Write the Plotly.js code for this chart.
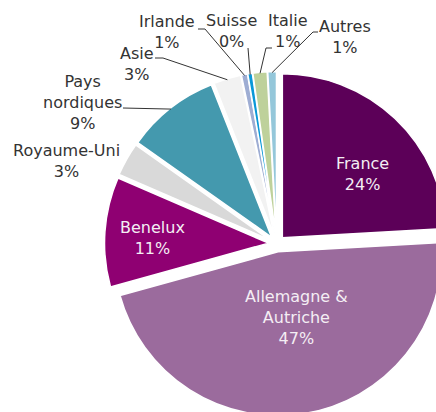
<!DOCTYPE html>
<html><head><meta charset="utf-8">
<script src="https://cdn.plot.ly/plotly-3.0.1.min.js"></script>
<style>
html,body{margin:0;padding:0;width:436px;height:412px;overflow:hidden;background:#fff}
#chart{position:absolute;left:0;top:0;width:560px;height:500px}
</style>
</head><body><div id="chart"></div>
<script>
// ---- data ----
const categories = ['France','Allemagne & Autriche','Benelux','Royaume-Uni','Pays nordiques','Asie','Irlande','Suisse','Italie','Autres'];
const labelText  = ['France','Allemagne &<br>Autriche','Benelux','Royaume-Uni','Pays<br>nordiques','Asie','Irlande','Suisse','Italie','Autres'];
const shares     = [24.1, 46.6, 10.8, 3.3, 9.2, 2.7, 0.6, 0.45, 1.4, 0.85];
const colors     = ['#5c0058','#9b6b9d','#8f0072','#d9d9d9','#4499ae','#f2f2f2','#9eadd3','#0a98d8','#bed19b','#94c7da'];

// ---- layout constants (page pixels) ----
const W = 560, H = 500;
const CX = 276.7, CY = 243.7, R = 164, PULL = 0.05;
const BOX = R * (2 + 2 * PULL);
const px = x => x / W, py = y => 1 - y / H;

// label placement (page px) and leader elbows
const labelPos = [[362,174],[296,317],[153,238],[66,161],[82,103],[137,64],[167,32],[231,31],[288,31],[345,37]];
const inside   = [true,true,true,false,false,false,false,false,false,false];
const elbows   = [null,null,null,null,[[123,108]],[[155,58],[163,58]],[[198,29],[205,29]],[[248,48]],[[272,48],[266,48]],[[318,32],[313,32]]];

const total = shares.reduce((a,b)=>a+b,0);
const annotations = [];
const shapes = [];
let cum = 0;
shares.forEach((v,i)=>{
  const mid = (cum + v/2) / total * 2 * Math.PI;
  cum += v;
  const pct = Math.round(v / total * 100) + '%';
  annotations.push({
    xref:'paper', yref:'paper', x: px(labelPos[i][0]), y: py(labelPos[i][1]),
    xanchor:'center', yanchor:'middle', showarrow:false, align:'center',
    text: labelText[i] + '<br>' + pct,
    font:{family:'DejaVu Sans, Verdana, sans-serif', size:16, color: inside[i] ? '#f4eef4' : '#333333'}
  });
  if (elbows[i]) {
    const rr = R * (1 + PULL) - 1;
    const ex = CX + rr * Math.sin(mid), ey = CY - rr * Math.cos(mid);
    const pts = elbows[i].concat([[ex, ey]]);
    const path = pts.map((p,k)=>(k?'L':'M') + px(p[0]).toFixed(5) + ',' + py(p[1]).toFixed(5)).join(' ');
    shapes.push({type:'path', xref:'paper', yref:'paper', path, line:{color:'#333333', width:1}});
  }
});

const trace = {
  type:'pie', labels: categories, values: shares, sort:false, direction:'clockwise', rotation:0,
  marker:{colors: colors, line:{color:'#ffffff', width:1.5}},
  pull: shares.map(()=>PULL),
  textinfo:'none', hoverinfo:'skip', showlegend:false,
  domain:{x:[px(CX - BOX/2), px(CX + BOX/2)], y:[py(CY + BOX/2), py(CY - BOX/2)]}
};

Plotly.newPlot('chart', [trace], {
  width: W, height: H, margin:{l:0,r:0,t:0,b:0},
  paper_bgcolor:'#ffffff', plot_bgcolor:'#ffffff', showlegend:false,
  annotations, shapes
}, {staticPlot:true, displayModeBar:false});
</script>
</body></html>
